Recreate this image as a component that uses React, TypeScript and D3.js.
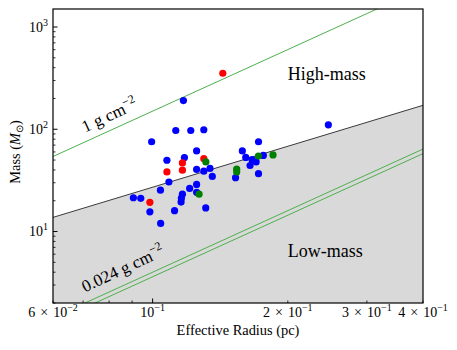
import * as d3 from 'd3';

// Cores: [effective radius (pc), mass (Msun)]
const blueCores: [number, number][] = [
  [0.1171, 191], [0.1126, 97.3], [0.1216, 97.3], [0.13, 98.9], [0.0995, 75.5],
  [0.1721, 75.5], [0.1253, 61.4], [0.1584, 61.4], [0.1076, 49.8], [0.1177, 52.9],
  [0.1612, 53.1], [0.1665, 50.4], [0.1764, 55.5], [0.17, 47.9], [0.1648, 44.2],
  [0.1253, 40.5], [0.1342, 41.4], [0.13, 38.9], [0.1358, 34.6], [0.1721, 36.8],
  [0.153, 33.6], [0.1087, 30.5], [0.1041, 25.4], [0.1209, 26.4], [0.1253, 28.9],
  [0.1253, 24.2], [0.1165, 23.2], [0.1159, 21.2], [0.1157, 19.4], [0.0906, 21.4],
  [0.0941, 21.1], [0.0986, 15.6], [0.1119, 16.0], [0.1313, 17.0], [0.1042, 12.0],
  [0.2462, 110.6],
];
const redCores: [number, number][] = [
  [0.1433, 353], [0.1165, 46.9], [0.13, 51.6], [0.1076, 38.3], [0.1165, 39.8], [0.0986, 19.3],
];
const greenCores: [number, number][] = [
  [0.1314, 47.9], [0.172, 54.8], [0.1854, 56.1], [0.1539, 40.7], [0.1539, 38.3], [0.1269, 23.2],
];

// threshold M = 580 Msun (R/pc)^1.33
const kpCoef = 580;
const kpExp = 1.33;
// constant surface density lines (g cm^-2)
const sigmaLines = [1, 0.0266, 0.024];
const gcm2ToMsunPc2 = Math.PI * (3.086e18 * 3.086e18) / 1.989e33;

const xMajor = [0.1];
const xMinor = [0.06, 0.07, 0.08, 0.09, 0.2, 0.3, 0.4];
const xLabels: [number, string | null, number][] = [
  [0.06, '6', -2], [0.1, null, -1], [0.2, '2', -1], [0.3, '3', -1], [0.4, '4', -1],
];
const yMajor = [10, 100, 1000];
const yLabels: [number, number][] = [[10, 1], [100, 2], [1000, 3]];

const W = 457;
const H = 350;
const left = 53, right = 423, top = 9, bottom = 303;
const font = "'Liberation Serif', 'Times New Roman', serif";

const x = d3.scaleLog().domain([0.06, 0.4]).range([left, right]);
const y = d3.scaleLog().domain([2, 1500]).range([bottom, top]);

const yMinor: number[] = [];
[1, 10, 100, 1000].forEach(d => {
  for (let k = 2; k <= 9; k++) {
    const v = k * d;
    if (v >= 2 && v <= 1500) yMinor.push(v);
  }
});

const supText = (exp: number) => (exp < 0 ? '\u2212' + Math.abs(exp) : String(exp));

export default function App() {
  const rEnds = x.domain();
  const line = d3.line<number>().x(r => x(r)).y(r => y(kpCoef * Math.pow(r, kpExp)));
  const area = d3.area<number>()
    .x(r => x(r))
    .y0(bottom)
    .y1(r => y(kpCoef * Math.pow(r, kpExp)));
  const sigmaPath = (s: number) =>
    d3.line<number>().x(r => x(r)).y(r => y(s * gcm2ToMsunPc2 * r * r))(rEnds) || '';

  const dot = (c: [number, number], i: number, fill: string) => (
    <circle key={fill + i} cx={x(c[0])} cy={y(c[1])} r={3.6} fill={fill} />
  );

  return (
    <svg width={W} height={H} style={{ position: 'absolute', left: 0, top: 0, background: '#fff' }}
      fontFamily={font}>
      <defs>
        <clipPath id="plot">
          <rect x={left} y={top} width={right - left} height={bottom - top} />
        </clipPath>
      </defs>
      <g clipPath="url(#plot)">
        <path d={area(rEnds) || ''} fill="#d9d9d9" />
        <path d={line(rEnds) || ''} fill="none" stroke="#3a3a3a" strokeWidth={1} />
        {sigmaLines.map(s => (
          <path key={s} d={sigmaPath(s)} fill="none" stroke="#4cb04c" strokeWidth={1} />
        ))}
        {blueCores.map((c, i) => dot(c, i, '#0000ff'))}
        {redCores.map((c, i) => dot(c, i, '#ff0000'))}
        {greenCores.map((c, i) => dot(c, i, '#008000'))}
      </g>

      {/* annotations */}
      <text x={x(0.2)} y={y(300)} fontSize={18}>High-mass</text>
      <text x={x(0.2)} y={y(5.6)} fontSize={18}>Low-mass</text>
      <text transform={`translate(${x(0.0707)},${y(92.5)}) rotate(-25)`} fontSize={17}>
        1 g cm<tspan dy={-7} fontSize={12}>{'\u22122'}</tspan>
      </text>
      <text transform={`translate(${x(0.0707)},${y(2.54)}) rotate(-25)`} fontSize={17}>
        0.024 g cm<tspan dy={-7} fontSize={12}>{'\u22122'}</tspan>
      </text>

      {/* ticks */}
      {xMajor.map(v => (
        <line key={'xM' + v} x1={x(v)} x2={x(v)} y1={bottom} y2={bottom - 4.5} stroke="#000" />
      ))}
      {xMinor.map(v => (
        <line key={'xm' + v} x1={x(v)} x2={x(v)} y1={bottom} y2={bottom - 2.5} stroke="#000" strokeWidth={0.8} />
      ))}
      {yMajor.map(v => (
        <line key={'yM' + v} x1={left} x2={left + 4.5} y1={y(v)} y2={y(v)} stroke="#000" />
      ))}
      {yMinor.map(v => (
        <line key={'ym' + v} x1={left} x2={left + 2.5} y1={y(v)} y2={y(v)} stroke="#000" strokeWidth={0.8} />
      ))}

      {xLabels.map(([v, m, e]) => (
        <text key={'xl' + v} x={x(v)} y={317} textAnchor="middle" fontSize={14}>
          {m ? (
            <>
              <tspan>{m}</tspan>
              <tspan dx={5}>{'\u00d7'}</tspan>
              <tspan dx={5}>10</tspan>
            </>
          ) : '10'}
          <tspan dy={-6} fontSize={10}>{supText(e)}</tspan>
        </text>
      ))}
      {yLabels.map(([v, e]) => (
        <text key={'yl' + v} x={48} y={y(v) + 4.5} textAnchor="end" fontSize={14}>
          10<tspan dy={-6} fontSize={10}>{supText(e)}</tspan>
        </text>
      ))}

      {/* frame */}
      <rect x={left} y={top} width={right - left} height={bottom - top} fill="none" stroke="#000" strokeWidth={1.2} />

      {/* axis titles */}
      <text x={(left + right) / 2} y={335} textAnchor="middle" fontSize={14.4}>Effective Radius (pc)</text>
      <text transform={`translate(20,152) rotate(-90)`} textAnchor="middle" fontSize={14.4}>
        Mass (<tspan fontStyle="italic">M</tspan><tspan dy={3} fontSize={10}>{'\u2299'}</tspan><tspan dy={-3}>)</tspan>
      </text>
    </svg>
  );
}
